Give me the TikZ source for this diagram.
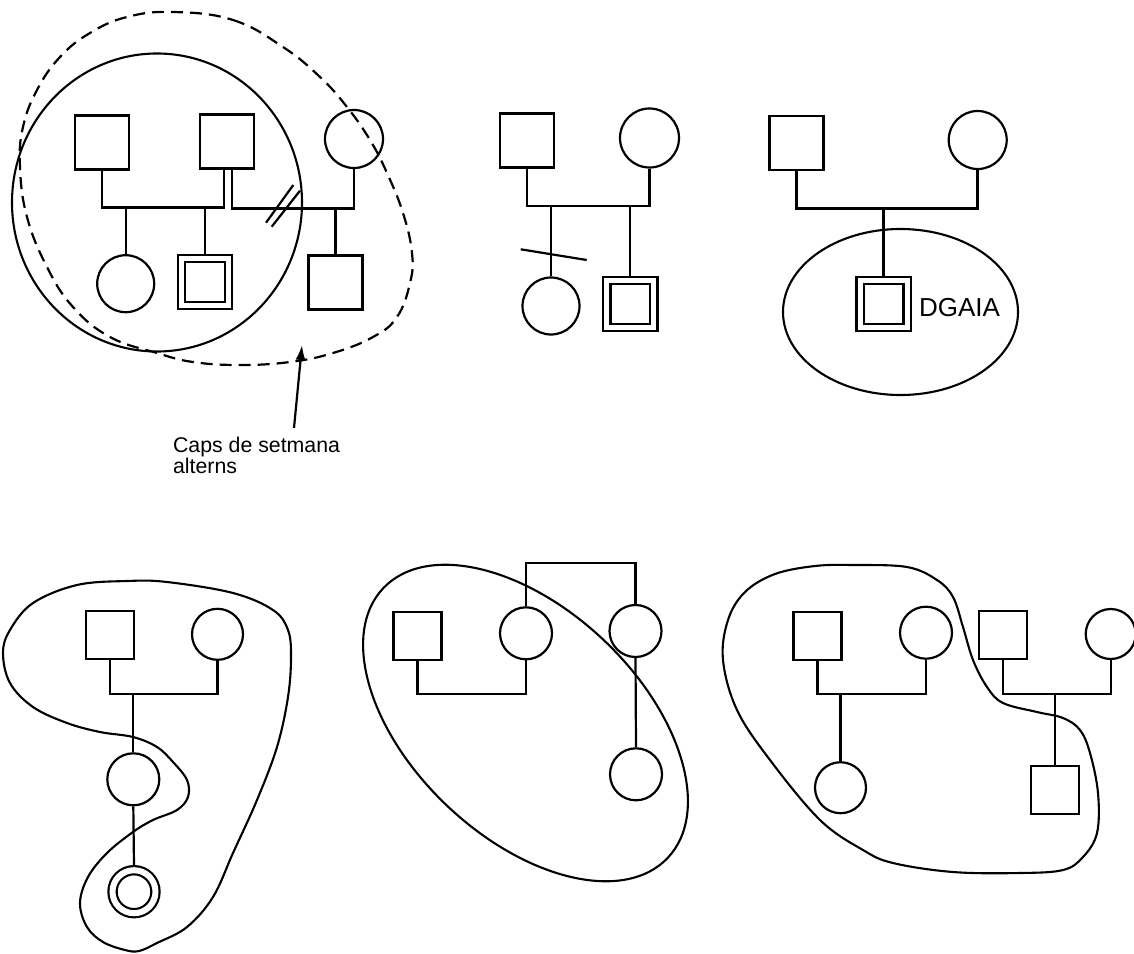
\documentclass[tikz,border=0pt]{standalone}
\usepackage{fontspec}
\setmainfont{Liberation Sans}
\usetikzlibrary{arrows.meta}
\tikzset{
  male/.style={draw, rectangle, minimum size=54pt, inner sep=0pt},
  female/.style={draw, circle, minimum size=58pt, inner sep=0pt},
  indexsq/.style={draw, rectangle, minimum size=47pt, inner sep=0pt, double, double distance=5pt, outer sep=4.5pt},
  indexci/.style={draw, circle, minimum size=43pt, inner sep=0pt, double, double distance=6pt, outer sep=4.5pt},
  group/.style={draw, line width=2.1pt},
  dashgroup/.style={draw, line width=2.2pt, dash pattern=on 12pt off 7pt},
  slashmark/.style={draw, line width=2.2pt},
  boldline/.style={line width=3pt},
  lbltext/.style={font={\fontsize{21.3}{19.5}\selectfont}, inner sep=0pt, align=left},
}
\begin{document}
\begin{tikzpicture}[x=1pt, y=-1pt, line width=2.2pt]
\useasboundingbox (0,0) rectangle (1134,953);

% ---------- Top left ----------
\node[male] (A) at (102,142.5) {};
\node[male] (B) at (227,141.5) {};
\node[female] (C) at (354,139) {};
\node[female, minimum size=57pt] (D) at (125.7,283.7) {};
\coordinate (m1) at (102,207.5);
\coordinate (m2) at (232,208.5);
\draw (A.south) -- (m1) -| ([xshift=-3pt]B.south);
\draw ([xshift=5pt]B.south) -- (m2) -| (C.south);
\draw (D.north) -- (D.north |- m1);
\node[indexsq] (E) at (205,282) {};
\draw (E.north) -- (E.north |- m1);
\node[male] (F) at (335.5,282.5) {};
\draw (F.north) -- (F.north |- m2);
\draw[slashmark] (266,222.7) -- (293.3,185);
\draw[slashmark] (271.7,226.7) -- (300,190.7);
\draw[group] (157,202.5) ellipse [x radius=145pt, y radius=149pt];
\draw[dashgroup] plot[smooth cycle, tension=0.7] coordinates {
  (173,12) (233,20) (283,47) (320,77) (347,107) (370,140) (387,173)
  (403,213) (412,253) (410,283) (397,317) (373,337) (333,353) (290,362)
  (240,365) (193,362) (157,353) (110,337) (73,307) (47,267) (27,217)
  (20,167) (23,127) (37,90) (60,57) (90,33) (127,17)};
\node[lbltext, anchor=north west] (lbl) at (172,436) {Caps de setmana\\alterns};
\coordinate (tip) at (302,345);
\draw[-{Latex[length=15pt,width=10pt]}] (294,428) -- (tip);

% ---------- Top middle ----------
\node[male] (G) at (527,140.5) {};
\node[female, minimum size=59pt] (H) at (649.5,138) {};
\coordinate (m3) at (527,206);
\draw (G.south) -- (m3) -| (H.south);
\node[female, minimum size=57pt] (I) at (551,306) {};
\node[indexsq] (J) at (630.3,303.8) {};
\draw (I.north) -- (I.north |- m3);
\draw (J.north) -- (J.north |- m3);
\draw[slashmark] (520.7,249.3) -- (586.7,260);

% ---------- Top right ----------
\node[male] (K) at (796.5,143.3) {};
\node[female] (L) at (977.7,140) {};
\coordinate (m4) at (796.5,208.3);
\draw[boldline] (K.south) -- (m4) -| (L.south);
\node[indexsq] (M) at (883.5,303.8) {};
\draw (M.north) -- (M.north |- m4);
\draw[group] (900.5,312) ellipse [x radius=117.5pt, y radius=83pt];
\node[anchor=west, inner sep=0pt, font={\fontsize{26}{30}\selectfont}] (dg) at (918,308) {DGAIA};

% ---------- Bottom left ----------
\node[male, minimum size=48pt] (N) at (110,635) {};
\node[female, minimum size=51pt] (O) at (217.5,634.3) {};
\coordinate (m5) at (110,694.3);
\draw (N.south) -- (m5) -| (O.south);
\node[female, minimum size=52pt] (P) at (133.3,779.3) {};
\draw (P.north) -- (P.north |- m5);
\node[indexci] (Q) at (134,891.7) {};
\draw (P.south) -- (Q.north);
\draw[group] plot[smooth cycle, tension=0.6] coordinates {
  (127,581) (167,582) (233,593) (273,610) (288,630) (291,657) (288,697)
  (277,747) (257,800) (233,853) (213,897) (187,927) (157,943) (139,951)
  (125,950) (103,942) (87,927) (80,903) (88,877) (107,853) (133,832)
  (153,820) (177,810) (188,797) (187,780) (173,762) (157,747) (133,737)
  (100,732) (67,723) (33,707) (10,683) (3,653) (10,630) (33,603) (77,585)};

% ---------- Bottom middle ----------
\node[male, minimum size=48pt] (R) at (417.5,636) {};
\node[female, minimum size=52pt] (S) at (526,633.3) {};
\node[female, minimum size=52pt] (T) at (635.5,631) {};
\node[female, minimum size=52pt] (U) at (636,774.3) {};
\coordinate (m6) at (417.5,694.3);
\coordinate (m7) at (526,562.7);
\draw (R.south) -- (m6) -| (S.south);
\draw (S.north) -- (m7) -| (T.north);
\draw (T.south) -- (U.north);
\draw[group, rotate around={-43.5:(525.5,723)}] (525.5,723) ellipse [x radius=196pt, y radius=114pt];

% ---------- Bottom right ----------
\node[male, minimum size=48pt] (V) at (817.5,636) {};
\node[female, minimum size=52pt] (W) at (926,632.7) {};
\coordinate (m8) at (817.5,694);
\draw (V.south) -- (m8) -| (W.south);
\node[female, minimum size=51pt] (X) at (840.5,787.7) {};
\draw (X.north) -- (X.north |- m8);
\node[male, minimum size=48pt] (Y) at (1003.3,635) {};
\node[female, minimum size=50pt] (Z) at (1110.7,634) {};
\coordinate (m9) at (1003.3,694);
\draw (Y.south) -- (m9) -| (Z.south);
\node[male, minimum size=48pt] (AA) at (1055,790) {};
\draw (AA.north) -- (AA.north |- m9);
\draw[group] plot[smooth cycle, tension=0.6] coordinates {
  (853,565) (907,567) (937,580) (953,597) (963,627) (973,660) (987,687)
  (1003,703) (1037,712) (1063,718) (1080,730) (1090,753) (1098,793)
  (1097,833) (1083,857) (1063,870) (1020,873) (953,872) (893,863)
  (863,850) (820,820) (770,760) (737,710) (723,660) (728,620) (745,592)
  (775,574) (815,566)};
\end{tikzpicture}
\end{document}
